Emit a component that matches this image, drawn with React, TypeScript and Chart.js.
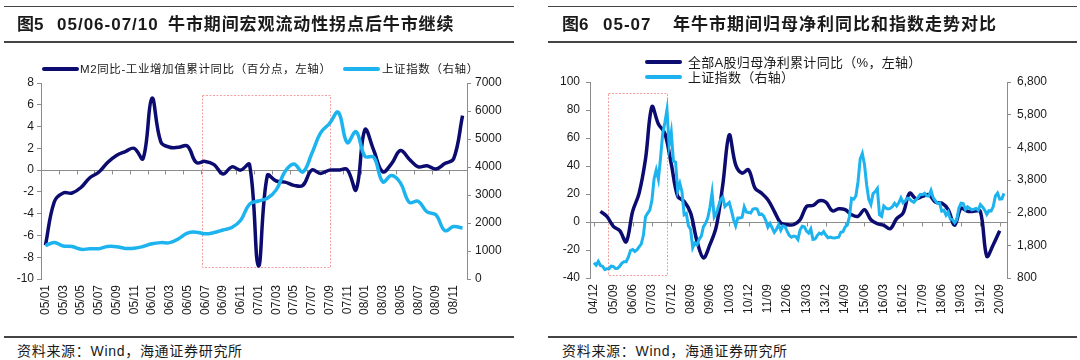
import React, { useEffect, useRef } from 'react';
import { Chart, registerables } from 'chart.js';

Chart.register(...registerables);

const DARK = '#0B0B70';
const LIGHT = '#1CB3EE';
const AXIS_GRAY = '#8C8C8C';
const BOX_RED = '#F2A0A0';
const TEXT = '#1A1A1A';
const LATIN = '"Liberation Sans", Arial, sans-serif';
const MIXED = '"Liberation Sans", "Noto Sans CJK SC", sans-serif';

function monthRange(y0: number, m0: number, y1: number, m1: number): string[] {
  const out: string[] = [];
  let y = y0;
  let m = m0;
  while (y < y1 || (y === y1 && m <= m1)) {
    out.push(String(y % 100).padStart(2, '0') + '/' + String(m).padStart(2, '0'));
    m += 1;
    if (m > 12) { m = 1; y += 1; }
  }
  return out;
}

// ---------- Figure 5 (monthly 2005/01 - 2008/12) ----------
const leftMonths = monthRange(2005, 1, 2008, 12);
const leftTickLabels = [
  '05/01', '05/03', '05/05', '05/07', '05/09', '05/11',
  '06/01', '06/03', '06/05', '06/07', '06/09', '06/11',
  '07/01', '07/03', '07/05', '07/07', '07/09', '07/11',
  '08/01', '08/03', '08/05', '08/07', '08/09', '08/11',
];
// M2 YoY minus industrial value-added cumulative YoY (pct pts, left axis)
const m2MinusIndustry = [
  -6.9, -2.9, -2.1, -2.1, -1.6, -0.7, -0.2, 0.7, 1.35, 1.7, 2.0, 1.05,
  6.6, 2.6, 2.1, 2.1, 2.2, 0.7, 0.8, 0.5, -0.35, 0.3, 0.0, 0.5,
  -8.8, -0.5, -1.0, -1.1, -1.4, -1.4, 0.0, -0.3, 0.0, 0.0, 0.05, -1.8,
  3.7, 1.8, -0.15, 0.6, 1.8, 1.0, 0.3, 0.4, 0.1, 0.6, 1.05, 5.0,
];
// Shanghai Composite (right axis)
const shIndexLeft = [
  1191, 1306, 1181, 1159, 1060, 1080, 1083, 1162, 1155, 1092, 1099, 1161,
  1258, 1299, 1298, 1440, 1642, 1672, 1612, 1658, 1752, 1837, 2099, 2675,
  2786, 2881, 3183, 3841, 4109, 3820, 4471, 5218, 5552, 5954, 4871, 5262,
  4383, 4348, 3473, 3693, 3433, 2736, 2776, 2397, 2293, 1729, 1872, 1821,
];
const leftBox = { from: 17.6, to: 32.1, top: 6.9, bottom: -8.9 };

// ---------- Figure 6 (monthly 2004/12 - 2020/11, profits quarterly) ----------
const rightMonths = monthRange(2004, 12, 2020, 11);
const rightTickLabels = [
  '04/12', '05/09', '06/06', '07/03', '07/12', '08/09', '09/06', '10/03',
  '10/12', '11/09', '12/06', '13/03', '13/12', '14/09', '15/06', '16/03',
  '16/12', '17/09', '18/06', '19/03', '19/12', '20/09',
];
const profitQuarters = monthRange(2005, 3, 2020, 9).filter((l) => ['03', '06', '09', '12'].includes(l.slice(3)));
// All-A net profit attributable to parent, cumulative YoY (%, left axis)
const netProfitYoY = [
  7.6, 4.0, -3.1, -6.2, -14.2, 7.6, 20.5, 45.0, 82.4, 70.0,
  63.3, 41.5, 18.3, 14.7, 6.5, -13.8, -25.7, -16.2, -3.1, 26.6,
  62.2, 40.8, 34.9, 37.3, 24.2, 20.6, 15.9, 7.6, -0.7, -1.9,
  -1.9, 1.6, 11.1, 11.8, 15.2, 14.2, 8.0, 9.5, 8.8, 5.2,
  4.0, 8.8, 1.6, -1.2, -2.4, -4.8, 2.4, 6.4, 20.6, 16.6,
  18.3, 19.5, 14.2, 13.5, 8.8, -2.4, 9.9, 7.6, 7.6, 7.6,
  -24.5, -16.2, -6.2,
];
// Shanghai Composite monthly close (right axis)
const shIndexRight = [
  1266,
  1191, 1306, 1181, 1159, 1060, 1080, 1083, 1162, 1155, 1092, 1099, 1161,
  1258, 1299, 1298, 1440, 1642, 1672, 1612, 1658, 1752, 1837, 2099, 2675,
  2786, 2881, 3183, 3841, 4109, 3820, 4471, 5218, 5552, 5954, 4871, 5262,
  4383, 4348, 3473, 3693, 3433, 2736, 2776, 2397, 2293, 1729, 1872, 1821,
  1991, 2082, 2373, 2478, 2633, 2959, 3412, 2668, 2779, 2996, 3195, 3277,
  2989, 3051, 3110, 2871, 2592, 2398, 2638, 2639, 2656, 2979, 2820, 2808,
  2791, 2905, 2928, 2911, 2743, 2762, 2701, 2568, 2359, 2469, 2333, 2199,
  2292, 2428, 2263, 2397, 2373, 2225, 2103, 2047, 2086, 2069, 1980, 2269,
  2385, 2366, 2237, 2178, 2301, 1979, 1994, 2098, 2175, 2142, 2220, 2116,
  2033, 2056, 2033, 2026, 2039, 2048, 2202, 2217, 2364, 2420, 2683, 3235,
  3210, 3310, 3748, 4442, 4612, 4277, 3664, 3206, 3053, 3383, 3446, 3539,
  2738, 2688, 3004, 2938, 2917, 2930, 2979, 3085, 3005, 3100, 3250, 3104,
  3159, 3242, 3223, 3155, 3117, 3192, 3273, 3361, 3349, 3393, 3317, 3307,
  3481, 3259, 3169, 3082, 3095, 2847, 2876, 2725, 2821, 2603, 2588, 2494,
  2585, 2941, 3091, 3078, 2899, 2979, 2933, 2886, 2905, 2929, 2872, 3050,
  2977, 2880, 2750, 2860, 2852, 2985, 3310, 3396, 3218, 3225, 3392,
];
const rightBox = { from: 6.7, to: 34.2, top: 91.9, bottom: -37.5 };

type Box = { from: number; to: number; top: number; bottom: number };

function overlayPlugin(zeroTicks: number[], box: Box) {
  return {
    id: 'overlay',
    beforeDatasetsDraw(chart: any) {
      const { ctx, chartArea: a, scales } = chart;
      const xs = scales.x;
      const ys = scales.y;
      const z = Math.round(ys.getPixelForValue(0)) + 0.5;
      ctx.save();
      ctx.strokeStyle = AXIS_GRAY;
      ctx.lineWidth = 1;
      ctx.beginPath();
      ctx.moveTo(a.left, z);
      ctx.lineTo(a.right, z);
      zeroTicks.forEach((v) => {
        const px = Math.round(xs.getPixelForValue(v)) + 0.5;
        ctx.moveTo(px, z);
        ctx.lineTo(px, z + 4);
      });
      ctx.stroke();
      const l = Math.round(xs.getPixelForValue(box.from)) + 0.5;
      const r = Math.round(xs.getPixelForValue(box.to)) + 0.5;
      const t = Math.round(ys.getPixelForValue(box.top)) + 0.5;
      const b = Math.round(ys.getPixelForValue(box.bottom)) + 0.5;
      ctx.strokeStyle = BOX_RED;
      ctx.setLineDash([2, 1.5]);
      ctx.strokeRect(l, t, r - l, b - t);
      ctx.restore();
    },
  };
}

const tickFont = { family: LATIN, size: 12 };

function yAxis(position: 'left' | 'right', min: number, max: number, step: number, width: number, padding: number, fmt?: (v: number) => string) {
  return {
    type: 'linear',
    position,
    min,
    max,
    ticks: {
      stepSize: step,
      padding,
      color: TEXT,
      font: tickFont,
      callback: (v: number) => (fmt ? fmt(v) : String(v)),
    },
    grid: { drawOnChartArea: false, tickLength: 4, color: AXIS_GRAY },
    border: { display: true, color: AXIS_GRAY },
    afterFit: (s: any) => { s.width = width; },
  };
}

function xAxis(min: number, max: number, labels: string[], tickLabels: string[], height: number) {
  return {
    type: 'linear',
    min,
    max,
    grid: { display: false, drawTicks: false },
    border: { display: false },
    ticks: {
      autoSkip: false,
      minRotation: 90,
      maxRotation: 90,
      padding: 6,
      color: TEXT,
      font: tickFont,
      callback: (v: number) => labels[v] ?? '',
    },
    afterBuildTicks: (s: any) => {
      s.ticks = tickLabels.map((l) => ({ value: labels.indexOf(l) }));
    },
    afterFit: (s: any) => { s.height = height; },
  };
}

function LeftChart() {
  const ref = useRef<HTMLCanvasElement>(null);
  useEffect(() => {
    if (!ref.current) return;
    const zeroTicks = leftTickLabels.map((l) => leftMonths.indexOf(l) + 1.5).filter((v) => v < leftMonths.length - 1);
    const chart = new Chart(ref.current, {
      type: 'line',
      data: {
        datasets: [
          {
            label: 'M2同比-工业增加值累计同比（百分点，左轴）',
            data: m2MinusIndustry.map((v, i) => ({ x: i, y: v })),
            yAxisID: 'y',
            borderColor: DARK,
            backgroundColor: DARK,
            borderWidth: 3.5,
            pointRadius: 0,
            tension: 0.4,
            order: 1,
          },
          {
            label: '上证指数（右轴）',
            data: shIndexLeft.map((v, i) => ({ x: i, y: v })),
            yAxisID: 'y1',
            borderColor: LIGHT,
            backgroundColor: LIGHT,
            borderWidth: 3.5,
            pointRadius: 0,
            tension: 0.4,
            order: 0,
          },
        ],
      },
      options: {
        animation: false,
        responsive: false,
        layout: { padding: { top: 83, left: 0, right: 0, bottom: 0 } },
        plugins: { legend: { display: false }, tooltip: { enabled: false } },
        scales: {
          x: xAxis(-0.5, leftMonths.length - 0.5, leftMonths, leftTickLabels, 56),
          y: yAxis('left', -10, 8, 2, 41, 3),
          y1: yAxis('right', 0, 7000, 1000, 73, 4),
        },
      } as any,
      plugins: [overlayPlugin(zeroTicks, leftBox)],
    });
    return () => chart.destroy();
  }, []);
  return <canvas ref={ref} width={540} height={335} style={{ position: 'absolute', left: 0, top: 0 }} />;
}

function RightChart() {
  const ref = useRef<HTMLCanvasElement>(null);
  useEffect(() => {
    if (!ref.current) return;
    const zeroTicks = rightTickLabels.map((l) => rightMonths.indexOf(l));
    const chart = new Chart(ref.current, {
      type: 'line',
      data: {
        datasets: [
          {
            label: '全部A股归母净利累计同比（%，左轴）',
            data: netProfitYoY.map((v, i) => ({ x: rightMonths.indexOf(profitQuarters[i]), y: v })),
            yAxisID: 'y',
            borderColor: DARK,
            backgroundColor: DARK,
            borderWidth: 3.5,
            pointRadius: 0,
            tension: 0.35,
            order: 1,
          },
          {
            label: '上证指数（右轴）',
            data: shIndexRight.map((v, i) => ({ x: i, y: v })),
            yAxisID: 'y1',
            borderColor: LIGHT,
            backgroundColor: LIGHT,
            borderWidth: 3,
            pointRadius: 0,
            tension: 0,
            order: 0,
          },
        ],
      },
      options: {
        animation: false,
        responsive: false,
        layout: { padding: { top: 82, left: 0, right: 0, bottom: 0 } },
        plugins: { legend: { display: false }, tooltip: { enabled: false } },
        scales: {
          x: xAxis(-1.86, rightMonths.length - 1 + 1.4, rightMonths, rightTickLabels, 57),
          y: yAxis('left', -40, 100, 20, 50, 6),
          y1: yAxis('right', 800, 6800, 1000, 73, 6, (v) => Number(v).toLocaleString('en-US')),
        },
      } as any,
      plugins: [overlayPlugin(zeroTicks, rightBox)],
    });
    return () => chart.destroy();
  }, []);
  return <canvas ref={ref} width={540} height={335} style={{ position: 'absolute', left: 540, top: 0 }} />;
}

const abs = (left: number, top: number, extra: React.CSSProperties = {}): React.CSSProperties => ({
  position: 'absolute', left, top, whiteSpace: 'pre', color: TEXT, ...extra,
});

function Rule({ left, width, top }: { left: number; width: number; top: number }) {
  return <div style={{ position: 'absolute', left, top, width, height: 1.5, background: '#444' }} />;
}

function Sample({ left, top, color }: { left: number; top: number; color: string }) {
  return <div style={{ position: 'absolute', left, top: top - 1.75, width: 37, height: 3.5, background: color, borderRadius: 2 }} />;
}

const titleStyle: React.CSSProperties = { fontFamily: MIXED, fontSize: 17, lineHeight: '20px', fontWeight: 700 };
const sourceStyle: React.CSSProperties = { fontFamily: MIXED, fontSize: 14, lineHeight: '18px', letterSpacing: 0.7 };
const legendLeftStyle: React.CSSProperties = { fontFamily: MIXED, fontSize: 11.5, lineHeight: '14px', letterSpacing: 0.6 };
const legendRightStyle: React.CSSProperties = { fontFamily: MIXED, fontSize: 13, lineHeight: '15px', letterSpacing: 0.3 };

export default function App() {
  return (
    <div style={{ position: 'absolute', left: 0, top: 0, width: 1080, height: 360, background: '#fff', overflow: 'hidden' }}>
      <LeftChart />
      <RightChart />

      {/* Figure 5 title */}
      <Rule left={4} width={510} top={5.5} />
      <Rule left={4} width={510} top={41} />
      <div style={abs(17, 15, titleStyle)}>图5</div>
      <div style={abs(57, 15, { ...titleStyle, letterSpacing: 1 })}>05/06-07/10</div>
      <div style={abs(168, 15, { ...titleStyle, letterSpacing: 0.9 })}>牛市期间宏观流动性拐点后牛市继续</div>

      {/* Figure 6 title */}
      <Rule left={548} width={529} top={5.5} />
      <Rule left={548} width={529} top={41} />
      <div style={abs(562, 15, titleStyle)}>图6</div>
      <div style={abs(603, 15, { ...titleStyle, letterSpacing: 1 })}>05-07</div>
      <div style={abs(673, 15, { ...titleStyle, letterSpacing: 1.0 })}>年牛市期间归母净利同比和指数走势对比</div>

      {/* Figure 5 legend */}
      <Sample left={42} top={69} color={DARK} />
      <div style={abs(80, 62, legendLeftStyle)}>M2同比-工业增加值累计同比（百分点，左轴）</div>
      <Sample left={343} top={69} color={LIGHT} />
      <div style={abs(382, 62, legendLeftStyle)}>上证指数（右轴）</div>

      {/* Figure 6 legend */}
      <Sample left={645} top={62} color={DARK} />
      <div style={abs(688, 54.5, legendRightStyle)}>全部A股归母净利累计同比（%，左轴）</div>
      <Sample left={645} top={77} color={LIGHT} />
      <div style={abs(688, 69.5, legendRightStyle)}>上证指数（右轴）</div>

      {/* Sources */}
      <Rule left={4} width={510} top={336} />
      <Rule left={548} width={529} top={336} />
      <div style={abs(17, 342, sourceStyle)}>资料来源：Wind，海通证券研究所</div>
      <div style={abs(562, 342, sourceStyle)}>资料来源：Wind，海通证券研究所</div>
    </div>
  );
}
